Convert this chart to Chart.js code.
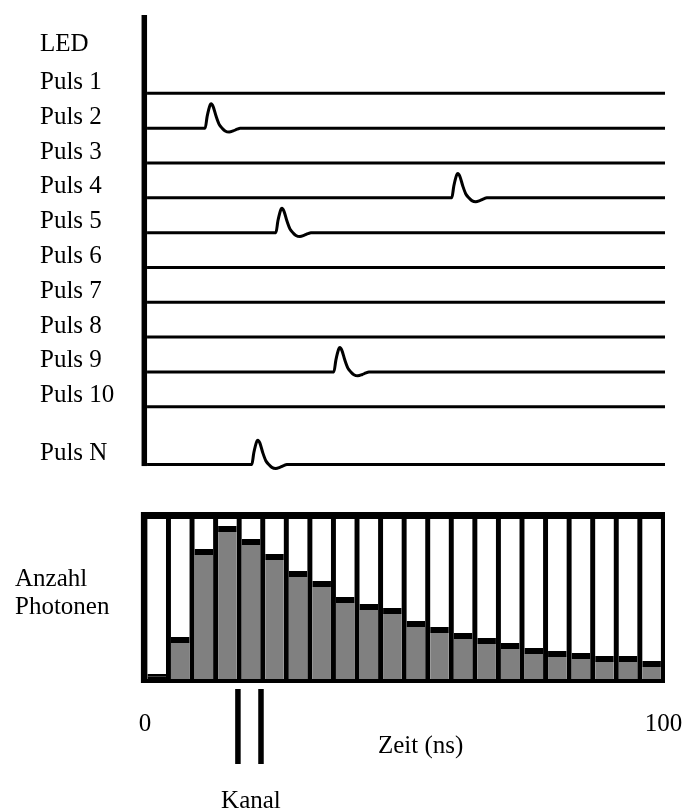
<!DOCTYPE html>
<html>
<head>
<meta charset="utf-8">
<title>LED-Pulse und Photonen-Histogramm</title>
<script src="https://cdn.jsdelivr.net/npm/chart.js@4.4.1/dist/chart.umd.min.js"></script>
<style>
    html, body {
        margin: 0;
        padding: 0;
        background: #fff;
    }
    #page {
        position: relative;
        width: 685px;
        height: 812px;
        overflow: hidden;
    }
    #pulseBox {
        position: absolute;
        left: 0;
        top: 0;
        width: 685px;
        height: 490px;
    }
    #histBox {
        position: absolute;
        left: 0;
        top: 490px;
        width: 685px;
        height: 322px;
    }
</style>
</head>
<body>
<div id="page">
    <div id="pulseBox"><canvas id="pulses"></canvas></div>
    <div id="histBox"><canvas id="hist"></canvas></div>
</div>

<script>
// Upper plot: one trace per LED pulse, stacked in rows
const rowLabels = ['LED', 'Puls 1', 'Puls 2', 'Puls 3', 'Puls 4', 'Puls 5', 'Puls 6',
                   'Puls 7', 'Puls 8', 'Puls 9', 'Puls 10', 'Puls N'];
const rowLevels = [11.75, 10.66, 9.66, 8.66, 7.66, 6.66, 5.66, 4.66, 3.66, 2.66, 1.66, 0];
// arrival time of the detected photon for each row (ns), null = nothing detected / no trace
const photonTimes = [null, null, 12.5, null, 60.6, 26.3, null, null, null, 37.6, null, 21.6];
// shape of one detector pulse: time offset to the peak (ns) and height (rows)
const shapeDt = [-1.17, -0.78, -0.19, 0, 0.39, 0.97, 1.56, 2.14, 2.73, 3.51, 4.29, 5.07, 5.65];
const shapeAmp = [0, 0.34, 0.67, 0.70, 0.62, 0.34, 0.11, 0, -0.08, -0.11, -0.08, -0.03, 0];
const traceEnd = 101;

// Lower plot: histogram of photon arrival times
const binLabels = ['1', '2', '3', '4', '5', '6', '7', '8', '9', '10', '11',
                   '12', '13', '14', '15', '16', '17', '18', '19', '20', '21', '22'];
const binCounts = [5, 42, 130, 153, 140, 125, 108, 98, 82, 75, 71,
                   58, 52, 46, 41, 36, 31, 28, 26, 23, 23, 18];
const countMax = 160;
const timeTicks = [0, 100];
const kanalBin = 4;

const serif = "'Liberation Serif', 'Times New Roman', serif";
Chart.defaults.font.family = serif;
Chart.defaults.color = '#000';

// build the traces: flat baseline, plus the pulse shape where a photon was seen
const traces = [];
rowLabels.forEach((label, i) => {
    if (label === 'LED') return;
    const level = rowLevels[i];
    const pts = [{ x: 0, y: level }];
    if (photonTimes[i] !== null) {
        shapeDt.forEach((dt, k) => {
            pts.push({ x: photonTimes[i] + dt, y: level + shapeAmp[k] });
        });
    }
    pts.push({ x: traceEnd, y: level });
    traces.push({
        label: label,
        data: pts,
        borderColor: '#000',
        borderWidth: 3,
        pointRadius: 0,
        cubicInterpolationMode: 'monotone',
        fill: false
    });
});

// thick vertical axis on the left of the traces
const axisLine = {
    id: 'axisLine',
    afterDatasetsDraw(chart) {
        const ctx = chart.ctx;
        const x0 = chart.scales.x.getPixelForValue(0);
        const top = chart.chartArea.top;
        const bottom = chart.scales.y.getPixelForValue(0) + 1.5;
        ctx.save();
        ctx.fillStyle = '#000';
        ctx.fillRect(x0 - 5.5, top, 5.5, bottom - top);
        ctx.restore();
    }
};

new Chart(document.getElementById('pulses'), {
    type: 'line',
    data: { datasets: traces },
    options: {
        responsive: true,
        maintainAspectRatio: false,
        animation: false,
        layout: { padding: { top: 10, bottom: 10, left: 40, right: 20 } },
        plugins: { legend: { display: false }, tooltip: { enabled: false } },
        scales: {
            x: {
                type: 'linear',
                min: -0.4,
                max: traceEnd,
                display: false
            },
            y: {
                type: 'linear',
                min: -0.3,
                max: 12.91,
                afterBuildTicks(scale) {
                    scale.ticks = rowLevels.map(v => ({ value: v }));
                },
                afterFit(scale) {
                    scale.width = 105;
                },
                grid: { display: false },
                border: { display: false },
                ticks: {
                    autoSkip: false,
                    crossAlign: 'far',
                    padding: 0,
                    labelOffset: -11,
                    font: { size: 25, family: serif },
                    color: '#000',
                    callback: (value, index) => rowLabels[index]
                }
            }
        }
    },
    plugins: [axisLine]
});

// black frame behind the histogram columns
const histFrame = {
    id: 'histFrame',
    beforeDatasetsDraw(chart) {
        const { ctx, chartArea: a } = chart;
        ctx.save();
        ctx.fillStyle = '#000';
        ctx.fillRect(a.left - 4, a.top - 7, a.right - a.left + 5.6, a.bottom - a.top + 11);
        ctx.restore();
    }
};

// free texts and the channel marker
const histNotes = {
    id: 'histNotes',
    afterDraw(chart) {
        const { ctx, chartArea: a } = chart;
        const xs = chart.scales.x;
        const binW = xs.getPixelForValue(1) - xs.getPixelForValue(0);
        const kx = xs.getPixelForValue(kanalBin);
        ctx.save();
        ctx.fillStyle = '#000';
        ctx.fillRect(kx - binW / 2 - 4, a.bottom + 10, 5.5, 75);
        ctx.fillRect(kx + binW / 2 - 4.5, a.bottom + 10, 5.5, 75);

        ctx.font = '25px ' + serif;
        ctx.textBaseline = 'alphabetic';
        ctx.textAlign = 'left';
        ctx.fillText('Anzahl', 15, 96);
        ctx.fillText('Photonen', 15, 124);
        ctx.fillText('Zeit (ns)', 378, 263);
        ctx.textAlign = 'center';
        ctx.fillText('Kanal', kx, 318);
        ctx.restore();
    }
};

new Chart(document.getElementById('hist'), {
    type: 'bar',
    data: {
        labels: binLabels,
        datasets: [
            {
                label: 'Anzahl Photonen',
                data: binCounts,
                backgroundColor: binCounts.map((v, i) => i === 0 ? '#000' : '#808080'),
                borderColor: '#000',
                borderWidth: { top: 6, left: 0, right: 0, bottom: 0 },
                barPercentage: 0.79,
                categoryPercentage: 1,
                grouped: false,
                order: 1
            },
            {
                label: 'Kanal',
                data: binCounts.map(() => countMax),
                backgroundColor: '#fff',
                borderWidth: 0,
                barPercentage: 0.79,
                categoryPercentage: 1,
                grouped: false,
                order: 2
            }
        ]
    },
    options: {
        responsive: true,
        maintainAspectRatio: false,
        animation: false,
        layout: { padding: { top: 29, bottom: 0, left: 144.9, right: 21.6 } },
        plugins: { legend: { display: false }, tooltip: { enabled: false } },
        scales: {
            x: { type: 'category', display: false },
            y: { min: 0, max: countMax, display: false },
            xt: {
                type: 'linear',
                position: 'bottom',
                offset: false,
                min: 0,
                max: 100,
                afterBuildTicks(scale) {
                    scale.ticks = timeTicks.map(v => ({ value: v }));
                },
                afterFit(scale) {
                    scale.height = 133;
                    scale.paddingLeft = 0;
                    scale.paddingRight = 0;
                },
                grid: { display: false, offset: false },
                border: { display: false },
                ticks: {
                    autoSkip: false,
                    maxRotation: 0,
                    padding: 22,
                    font: { size: 25, family: serif },
                    color: '#000'
                }
            }
        }
    },
    plugins: [histFrame, histNotes]
});
</script>
</body>
</html>
